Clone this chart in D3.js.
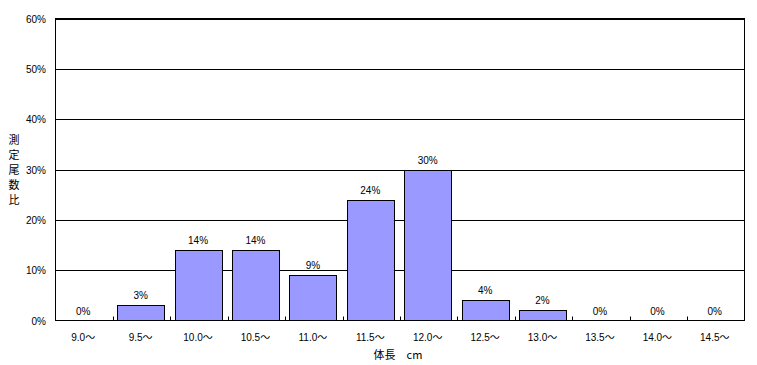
<!DOCTYPE html>
<html><head><meta charset="utf-8">
<script src="https://cdn.jsdelivr.net/npm/d3@7"></script>
<style>body{margin:0;background:#fff;} text{font-family:"Liberation Sans","DejaVu Sans",sans-serif;font-size:10px;fill:#000;}</style>
</head><body>
<svg id="c" width="757" height="365"></svg>
<script>
const categories = ["9.0～","9.5～","10.0～","10.5～","11.0～","11.5～","12.0～","12.5～","13.0～","13.5～","14.0～","14.5～"];
const values = [0,3,14,14,9,24,30,4,2,0,0,0];
const yTicks = [0,10,20,30,40,50,60];
const yTitle = ["測","定","尾","数","比"];
const xTitle = "体長　cm";

const svg = d3.select("#c");
const L=55.5, R=744.5, T=18.5, B=320.5;
const x = d3.scaleBand().domain(categories).range([L-1,R-1]).paddingInner(0.18).paddingOuter(0.09);
const xb = d3.scaleBand().domain(categories).range([L,R]);
const y = d3.scaleLinear().domain([0,60]).range([B,T]);

svg.append("g").selectAll("line").data(yTicks.filter(d=>d>0)).join("line")
  .attr("x1",L).attr("x2",R).attr("y1",d=>Math.round(y(d))+0.5).attr("y2",d=>Math.round(y(d))+0.5)
  .attr("stroke","#000").attr("stroke-width",1);
svg.append("rect").attr("x",L).attr("y",T).attr("width",R-L).attr("height",B-T)
  .attr("fill","none").attr("stroke","#000");

svg.append("g").selectAll("rect").data(values.map((v,i)=>({c:categories[i],v}))).join("rect")
  .filter(d=>d.v>0)
  .attr("x",d=>Math.round(x(d.c))+0.5).attr("width",Math.round(x.bandwidth()))
  .attr("y",d=>Math.round(y(d.v))+0.5).attr("height",d=>B-0.5-Math.round(y(d.v)))
  .attr("fill","#9999FF").attr("stroke","#000");

svg.append("g").selectAll("line").data(categories.slice(1)).join("line")
  .attr("x1",d=>Math.round(xb(d))+0.5).attr("x2",d=>Math.round(xb(d))+0.5)
  .attr("y1",B).attr("y2",B-4).attr("stroke","#000");

svg.append("g").selectAll("text").data(values.map((v,i)=>({c:categories[i],v}))).join("text")
  .attr("x",d=>xb(d.c)+xb.bandwidth()/2-1).attr("y",d=>y(d.v)-6)
  .attr("text-anchor","middle").text(d=>d.v+"%");

svg.append("g").selectAll("text").data(yTicks).join("text")
  .attr("x",46).attr("y",d=>y(d)+4).attr("text-anchor","end").text(d=>d+"%");

const xl = svg.append("g").selectAll("text").data(categories).join("text")
  .attr("x",d=>xb(d)+xb.bandwidth()/2-1).attr("y",341).attr("text-anchor","middle");
xl.append("tspan").text(d=>d.slice(0,-1));
xl.append("tspan").style("font-family","'Noto Sans CJK JP',sans-serif").text(d=>d.slice(-1));

svg.append("text").attr("x",398).attr("y",359).attr("text-anchor","middle")
  .style("font-family","'Noto Sans CJK JP',sans-serif").style("font-size","11px").text(xTitle);

svg.append("g").selectAll("text").data(yTitle).join("text")
  .attr("x",14).attr("y",(d,i)=>144+i*15).attr("text-anchor","middle")
  .style("font-family","'Noto Sans CJK JP',sans-serif").style("font-size","11px").text(d=>d);
</script>
</body></html>
